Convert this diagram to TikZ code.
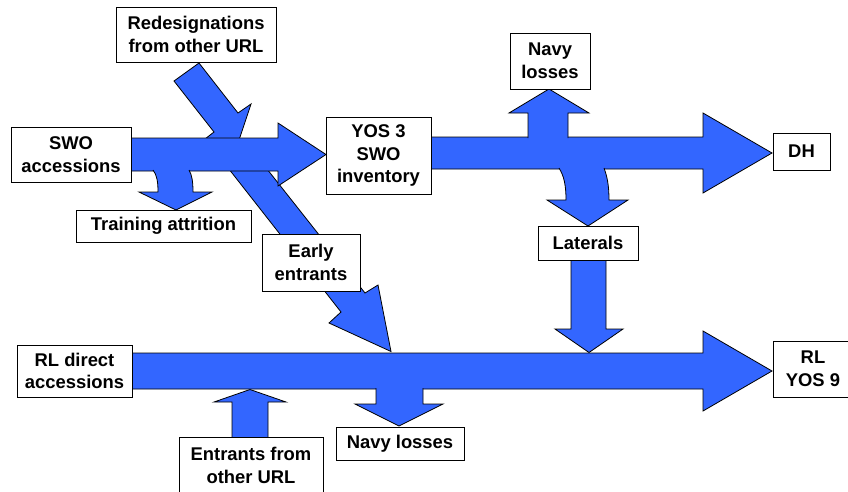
\documentclass[tikz,border=0pt]{standalone}
\usepackage{fontspec}
\setmainfont{Liberation Sans}
\definecolor{flowblue}{RGB}{51,102,255}
\tikzset{
    box/.style={draw, fill=white, line width=1pt, align=center, inner sep=0pt,
        font=\fontsize{18.4}{22.5}\selectfont\bfseries},
    flow/.style={fill=flowblue, draw=black, line width=0.8pt, line join=miter}
}
\begin{document}
\begin{tikzpicture}[x=1pt, y=-1pt]
        \useasboundingbox (0,0) rectangle (848,491);

        % arrows lying under the SWO flow
        \filldraw[flow] (174,81) -- (199,63) -- (238,113) -- (251,104) -- (239,140)
            -- (201.6,141.6) -- (214,132) -- cycle;
        \filldraw[flow] (214,150) -- (252,150) -- (365,293) -- (378,285) -- (391,351.5)
            -- (329,323) -- (341,312) -- cycle;

        % main flows
        \filldraw[flow] (125,138) -- (278,138) -- (278,123) -- (326,154.5) -- (278,186)
            -- (278,171) -- (125,171) -- cycle;
        \filldraw[flow] (425,137) -- (703,137) -- (703,113) -- (772,153) -- (703,193)
            -- (703,169) -- (425,169) -- cycle;
        \filldraw[flow] (126,353) -- (703,353) -- (703,331) -- (772,371) -- (703,411)
            -- (703,389) -- (126,389) -- cycle;

        % gains and losses
        \filldraw[flow] (189,170) .. controls (192,175) and (193,182) .. (193,192)
            -- (212,192) -- (176,210) -- (139,192) -- (158,192)
            .. controls (158,182) and (157,175) .. (153,170);
        \filldraw[flow] (604,168) .. controls (607,176) and (609,185) .. (609,200)
            -- (628,200) -- (588,226) -- (547,200) -- (566,200)
            .. controls (566,185) and (564,176) .. (559,168);
        \filldraw[flow] (528,138) -- (528,113) -- (509,113) -- (549,89) -- (589,113)
            -- (568,113) -- (568,138);
        \filldraw[flow] (232,440) -- (232,402) -- (214,402) -- (250,389.5) -- (286,402)
            -- (268,402) -- (268,440) -- cycle;
        \filldraw[flow] (423,388) -- (423,404) -- (443,404) -- (399,426) -- (355,404)
            -- (376,404) -- (376,388);
        \filldraw[flow] (571,256) -- (571,329) -- (555,329) -- (589,352.5) -- (623,329)
            -- (606,329) -- (606,256) -- cycle;

        % boxes
        \node[box, minimum width=160, minimum height=55] (red) at (196,34.5) {Redesignations\\from other URL};
        \node[box, minimum width=120, minimum height=55] (swo) at (71,154.5) {SWO\\accessions};
        \node[box, minimum width=105, minimum height=77] (yos) at (378.5,155.5) {YOS 3\\SWO\\inventory};
        \node[box, minimum width=175, minimum height=32] (train) at (163.5,226) {Training attrition};
        \node[box, minimum width=98, minimum height=57] (early) at (311,262.5) {Early\\entrants};
        \node[box, minimum width=80, minimum height=56] (navyup) at (550,61) {Navy\\losses};
        \node[box, minimum width=57, minimum height=37] (dh) at (801.5,151.5) {DH};
        \node[box, minimum width=100, minimum height=34] (lat) at (588,243) {Laterals};
        \node[box, minimum width=115, minimum height=52] (rld) at (74.5,371) {RL direct\\accessions};
        \node[box, minimum width=144, minimum height=57] (ent) at (251,465.5) {Entrants from\\other URL};
        \node[box, minimum width=128, minimum height=33] (navydn) at (400,443.5) {Navy losses};
        \node[box, minimum width=80, minimum height=56] (rlnine) at (813,369) {RL\\YOS 9};
\end{tikzpicture}
\end{document}
